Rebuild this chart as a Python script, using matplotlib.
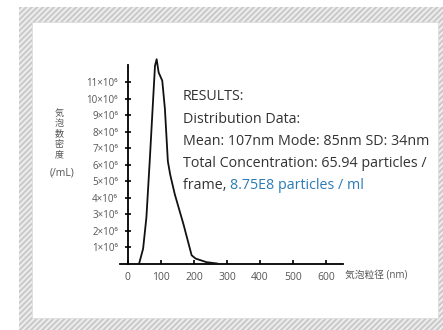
import numpy as np
import matplotlib as mpl
mpl.use("Agg")
import matplotlib.pyplot as plt
from matplotlib.patches import Rectangle

plt.rcParams['font.family'] = ['Open Sans', 'Noto Sans CJK JP', 'DejaVu Sans']
plt.rcParams['hatch.linewidth'] = 1.5

# bubble size distribution (nm) vs number density (x10^6 /mL)
size_nm = [34, 46, 56, 66, 77, 82, 87, 93, 104, 112, 121, 128, 142, 168, 193, 205, 238, 270]
density = [0, 0.9, 2.8, 6.2, 10.2, 12.0, 12.4, 11.6, 11.1, 9.4, 6.2, 5.4, 4.2, 2.4, 0.5, 0.3, 0.08, 0]

x_ticks = [0, 100, 200, 300, 400, 500, 600]
y_ticks = list(range(1, 12))
y_ticklabels = ['%d×10⁶' % v for v in y_ticks]

results = ['RESULTS:',
           'Distribution Data:',
           'Mean: 107nm Mode: 85nm SD: 34nm',
           'Total Concentration: 65.94 particles /']
last_line = 'frame, '
last_blue = '8.75E8 particles / ml'

W, H = 443, 330
fig = plt.figure(figsize=(W / 100, H / 100), dpi=100)

# hatched frame and white inner panel
frame = Rectangle((19 / W, 0), 1 - 19 / W, 1 - 7 / H, transform=fig.transFigure,
                  facecolor='#efefef', edgecolor='#cacaca', hatch='//////', lw=0, zorder=-5)
fig.patches.append(frame)
inner = Rectangle((32 / W, 12 / H), (438 - 32) / W, (318 - 22) / H, transform=fig.transFigure,
                  facecolor='white', edgecolor='#dddddd', lw=0.6, zorder=-4)
fig.patches.append(inner)

ax = fig.add_axes([120 / W, (H - 263.5) / H, 222.5 / W, 198.5 / H])
ax.patch.set_alpha(0)
ax.plot(size_nm, density, color='#111111', lw=1.3, clip_on=False, zorder=3)
ax.set_xlim(-24, 650)
ax.set_ylim(0, 12.05)

for s in ['top', 'right']:
    ax.spines[s].set_visible(False)
ax.spines['left'].set_position(('data', 0))
ax.spines['left'].set_linewidth(1.3)
ax.spines['bottom'].set_linewidth(1.3)

ax.set_xticks(x_ticks)
ax.set_xticklabels([str(v) for v in x_ticks])
ax.set_yticks(y_ticks)
ax.set_yticklabels(y_ticklabels)
ax.tick_params(axis='x', direction='in', length=3, width=1.2, pad=6, labelsize=7.5, labelcolor='#555555')
ax.tick_params(axis='y', direction='inout', length=4, width=1.2, pad=5, labelsize=7, labelcolor='#555555')

# axis titles
fig.text(345 / W, 1 - 276 / H, '気泡粒径 (nm)', fontsize=7, color='#555555', va='center', ha='left')
for i, ch in enumerate('気泡数密度'):
    fig.text(59 / W, 1 - (113 + 10.5 * i) / H, ch, fontsize=6.5, color='#555555', rotation=0,
             va='center', ha='center', family=['Noto Sans CJK JP'])
fig.text(62 / W, 1 - 173 / H, '(/mL)', fontsize=7.5, color='#555555', va='center', ha='center')

# results text block
y0 = 97
fs = 10.3
for i, line in enumerate(results):
    fig.text(183 / W, 1 - (y0 + 22.2 * i) / H, line, fontsize=fs, color='#333333', va='center', ha='left')
t = fig.text(183 / W, 1 - (y0 + 22.2 * 4) / H, last_line, fontsize=fs, color='#333333', va='center', ha='left')
fig.canvas.draw()
bb = t.get_window_extent()
fig.text(bb.x1 / W, 1 - (y0 + 22.2 * 4) / H, last_blue, fontsize=fs, color='#2b7bb5', va='center', ha='left')

fig.savefig('out.png', dpi=100)
